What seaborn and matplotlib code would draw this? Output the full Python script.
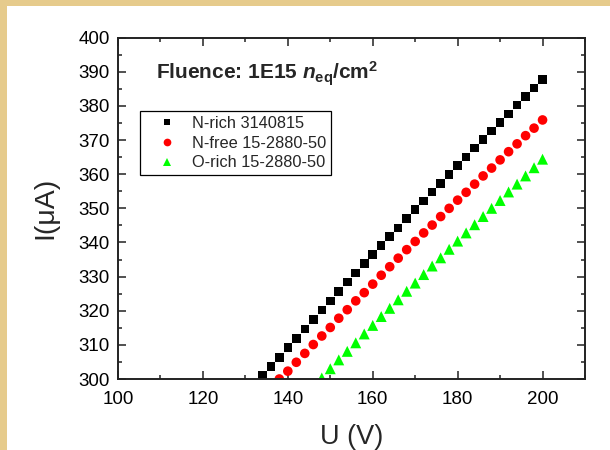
import matplotlib
matplotlib.use("Agg")
import matplotlib.pyplot as plt
import seaborn as sns
import pandas as pd
from matplotlib.patches import Rectangle
from matplotlib.ticker import MultipleLocator

# ---- data ----
u_black = list(range(134, 201, 2))
i_black = [301.0, 303.6, 306.3, 309.2, 311.9, 314.7, 317.5, 320.2, 322.9, 325.6,
           328.4, 331.1, 333.8, 336.4, 339.1, 341.7, 344.3, 347.0, 349.6, 352.1,
           354.8, 357.3, 359.9, 362.5, 365.0, 367.7, 370.1, 372.7, 375.2, 377.7,
           380.3, 382.8, 385.3, 387.8]
u_red = list(range(138, 201, 2))
i_red = [300.0, 302.3, 304.9, 307.5, 310.1, 312.6, 315.1, 317.8, 320.3, 322.9,
         325.3, 327.8, 330.4, 332.9, 335.4, 337.9, 340.3, 342.8, 345.1, 347.6,
         350.0, 352.4, 354.7, 357.1, 359.5, 361.8, 364.2, 366.6, 368.9, 371.3,
         373.5, 375.9]
u_green = list(range(148, 201, 2))
i_green = [300.3, 303.0, 305.6, 308.1, 310.6, 313.2, 315.7, 318.3, 320.7, 323.2,
           325.7, 328.1, 330.6, 333.1, 335.5, 338.0, 340.4, 342.8, 345.2, 347.6,
           350.0, 352.3, 354.8, 357.1, 359.5, 361.9, 364.4]
series_names = ["N-rich 3140815", "N-free 15-2880-50", "O-rich 15-2880-50"]
series_colors = ["#000000", "#FF0000", "#00FF00"]
series_markers = ["s", "o", "^"]
series_sizes = [38, 48, 62]

df = pd.concat([
    pd.DataFrame({"U": u_black, "I": i_black, "sample": series_names[0]}),
    pd.DataFrame({"U": u_red, "I": i_red, "sample": series_names[1]}),
    pd.DataFrame({"U": u_green, "I": i_green, "sample": series_names[2]}),
], ignore_index=True)

sns.set_style("ticks")
plt.rcParams["font.family"] = ["Liberation Sans", "DejaVu Sans"]
plt.rcParams["mathtext.fontset"] = "custom"
plt.rcParams["mathtext.rm"] = "Liberation Sans:bold"
plt.rcParams["mathtext.it"] = "Liberation Sans:bold:italic"
plt.rcParams["mathtext.bf"] = "Liberation Sans:bold"

fig = plt.figure(figsize=(6.1, 4.5), dpi=100, facecolor="white")
ax = fig.add_axes([118/610, 1-379/450, (585-118)/610, (379-37.7)/450])

sns.scatterplot(data=df, x="U", y="I", hue="sample", style="sample", size="sample",
                palette=dict(zip(series_names, series_colors)),
                markers=dict(zip(series_names, series_markers)),
                sizes=dict(zip(series_names, series_sizes)),
                edgecolor="none", linewidth=0, ax=ax)

ax.set_xlim(100, 210)
ax.set_ylim(300, 400)
ax.xaxis.set_major_locator(MultipleLocator(20))
ax.xaxis.set_minor_locator(MultipleLocator(10))
ax.yaxis.set_major_locator(MultipleLocator(10))
ax.yaxis.set_minor_locator(MultipleLocator(5))
ax.tick_params(which="both", direction="in", top=True, right=True,
               width=1.1, colors="#222222", labelcolor="black")
ax.tick_params(which="major", length=6, labelsize=13.5, pad=6)
ax.tick_params(axis="x", which="major", pad=9)
ax.tick_params(which="minor", length=3)
for sp in ax.spines.values():
    sp.set_linewidth(1.4)
    sp.set_color("#222222")

ax.set_xlabel("U (V)", fontsize=19.5, labelpad=11)
ax.set_ylabel("I(μA)", fontsize=20.5, labelpad=14)

ax.text(156.5/610, 1-80/450, r"Fluence: 1E15 $\mathit{n}_{\mathrm{eq}}$/cm$^{\mathrm{2}}$",
        transform=fig.transFigure, fontsize=15, fontweight="bold", ha="left",
        va="baseline")

leg = ax.legend(loc="upper left", bbox_to_anchor=(0.048, 0.786), borderaxespad=0,
                fontsize=11.8, frameon=True, fancybox=False, shadow=False,
                handletextpad=0.15, labelspacing=0.3, borderpad=0.3,
                markerscale=0.8, handlelength=2.7)
leg.get_frame().set_edgecolor("black")
leg.get_frame().set_linewidth(0.9)
leg.get_frame().set_alpha(1)

# beige textured border of the slide
fig.patches.append(Rectangle((0, 0), 7/610, 1, transform=fig.transFigure,
                             facecolor="#E6CB8C", edgecolor="none", zorder=-1))
fig.patches.append(Rectangle((0, 1-6/450), 1, 6/450, transform=fig.transFigure,
                             facecolor="#E6CB8C", edgecolor="none", zorder=-1))

fig.savefig("out.png", dpi=100, facecolor="white")
